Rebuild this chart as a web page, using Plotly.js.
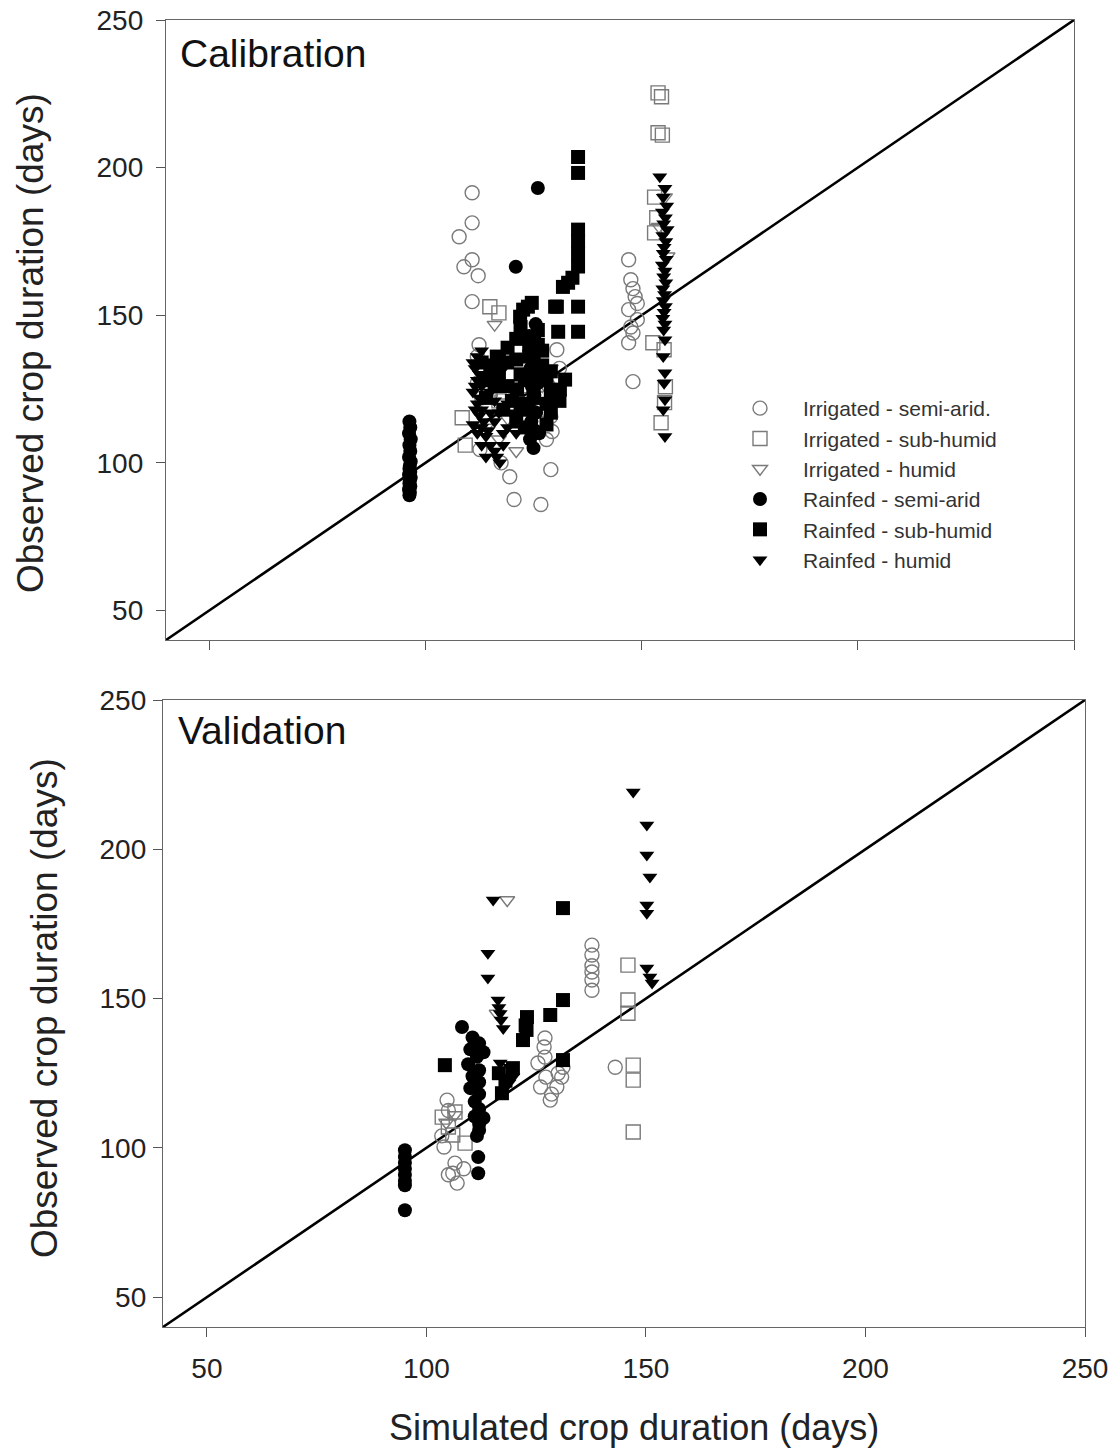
<!DOCTYPE html>
<html><head><meta charset="utf-8">
<script src="https://cdn.plot.ly/plotly-3.0.1.min.js"></script>
<style>html,body{margin:0;padding:0;background:#fff}#chart{width:1120px;height:1450px}</style>
</head><body><div id="chart"></div>
<script>
// ---------- series names ----------
const seriesNames = ["Irrigated - semi-arid.", "Irrigated - sub-humid", "Irrigated - humid",
                     "Rainfed - semi-arid", "Rainfed - sub-humid", "Rainfed - humid"];
const tickValues = [50, 100, 150, 200, 250];
const oneToOne = [40, 250];

// ---------- Calibration (simulated x, observed y) ----------
const calIrrSemiAridX = [110.8,110.8,107.8,110.8,108.9,112.2,110.8,112.4,112.0,113.0,112.0,113.0,112.6,119.5,120.5,126.7,129.0,117.5,129.3,128.0,129.0,130.0,130.4,128.5,127.0,131.0,147.0,147.5,148.5,147.0,149.0,148.0,147.0,148.0,149.0,147.5,148.0];
const calIrrSemiAridY = [191.5,181.3,176.6,168.8,166.4,163.4,154.6,140.0,136.0,131.0,127.0,122.0,104.5,95.3,87.6,85.9,97.7,100.0,110.6,107.9,115.7,121.4,138.3,126.0,118.0,132.0,168.8,162.0,156.3,151.9,148.5,144.0,140.7,159.0,154.0,146.0,127.5];

const calIrrSubHumidX = [114.9,117.0,108.5,109.2,115.0,118.0,121.0,123.5,117.0,153.8,154.6,153.8,154.8,153.0,153.0,153.5,152.6,155.2,155.5,155.3,154.5];
const calIrrSubHumidY = [152.9,150.8,115.3,106.0,125.0,124.0,125.0,121.4,121.0,225.3,224.0,211.8,211.0,190.0,177.9,183.0,140.7,138.3,125.8,120.4,113.6];

const calIrrHumidX = [116.0,114.0,117.0,119.0,124.0,127.0,129.0,121.0,155.4,154.0,156.0];
const calIrrHumidY = [146.8,112.0,108.0,115.0,118.0,126.0,132.0,104.0,190.0,180.0,170.0];

const calRainSemiAridX = [96.3,96.5,96.2,96.6,96.3,96.5,96.2,96.6,96.4,96.3,96.5,96.2,96.6,96.4,96.3,96.5,96.2,96.4,96.3,126.0,120.9,125.0,124.2,125.3,124.5,125.6,124.0,125.2,124.6,125.8,124.3,125.0,124.8,125.5,123.5,126.0,123.8,126.3,124.0,125.5];
const calRainSemiAridY = [114.0,112.0,110.0,108.0,106.0,104.0,102.0,100.5,99.0,98.0,97.0,96.0,95.0,94.0,93.0,92.0,91.0,90.0,89.0,193.1,166.4,105.0,108.0,111.0,114.0,117.0,120.0,123.0,126.0,129.0,132.0,135.0,138.0,141.0,130.0,127.0,118.0,110.0,143.0,147.0];

const calRainSubHumidX = [135.3,135.3,135.3,135.3,135.3,135.3,134.0,131.8,133.0,130.0,135.3,130.7,135.3,123.7,121.9,122.6,124.6,130.4,113.0,115.0,117.0,118.9,121.2,122.0,124.0,126.0,128.0,129.0,131.1,132.3,127.0,125.0,122.0,120.0,118.0,116.5,114.0,119.0,121.0,126.0,128.0,129.0,123.0,114.0,116.0,
                          119.0,121.0,123.0,125.0,127.0,125.0,123.0,121.0,117.0,116.0,124.0,126.0,122.0,129.0,131.0,128.0];
const calRainSubHumidY = [203.6,198.2,179.0,175.0,171.0,166.5,162.7,159.6,161.0,152.9,152.9,144.4,144.4,152.9,149.5,151.9,154.2,152.9,134.0,131.0,135.0,134.0,124.8,130.0,136.0,140.0,128.0,124.0,124.8,128.2,133.0,122.0,118.0,121.0,118.0,136.0,122.0,139.0,142.0,130.0,120.0,117.0,112.0,128.0,126.0,
                          126.0,135.0,128.0,134.0,138.0,126.0,120.0,114.0,130.0,133.0,140.0,145.0,146.0,131.0,121.0,113.0];

const calRainHumidX = [154.2,155.4,155.0,155.8,154.8,155.5,155.1,155.9,154.9,155.6,155.2,155.0,155.7,154.8,155.4,155.1,155.6,154.9,155.3,155.0,155.5,155.2,154.9,155.4,155.1,155.4,155.0,155.4,155.2,155.4,155.0,155.4,
                       112.0,111.5,112.0,111.0,112.0,112.5,113.0,114.0,115.0,116.0,117.2,113.0,114.0,113.0,115.0,117.0,119.0,116.0,118.0,112.0,111.0,113.0,114.0,115.0,116.0,
                       111.0,112.5,111.5,112.5,111.5,113.5,114.5,116.5,118.0,119.0,115.0,117.0,118.0,120.0,121.0,113.0];
const calRainHumidY = [196.9,193.0,190.0,187.0,185.0,183.0,181.0,179.0,177.0,175.0,173.0,171.0,169.0,167.0,165.0,163.0,161.0,159.0,157.0,155.0,153.0,151.0,149.0,147.0,145.0,141.7,136.0,130.5,127.0,121.4,118.0,108.9,
                       136.0,132.0,128.0,124.0,120.0,116.0,112.0,109.0,106.0,104.0,100.0,118.0,122.0,126.0,130.0,127.0,120.0,114.0,110.0,110.0,113.0,106.0,102.0,117.0,121.0,
                       134.0,130.0,126.0,122.0,118.0,114.0,111.0,102.0,106.0,112.0,124.0,117.0,132.0,117.0,110.0,138.0];

// ---------- Validation ----------
const valIrrSemiAridX = [104.7,105.0,104.0,103.5,106.5,106.0,107.0,105.0,108.5,127.0,126.8,127.0,125.4,127.2,126.0,128.2,131.1,130.8,129.7,128.5,130.0,137.7,137.7,137.7,137.7,137.7,137.7,143.0];
const valIrrSemiAridY = [116.0,112.5,100.3,104.0,94.9,91.5,88.2,91.0,93.0,136.8,133.8,130.4,128.4,123.7,120.4,116.0,127.0,123.7,120.4,118.0,125.0,167.9,164.6,161.0,158.9,156.2,152.8,127.0];

const valIrrSubHumidX = [103.6,105.0,106.0,108.8,106.5,145.9,145.9,145.9,147.1,147.1,147.1];
const valIrrSubHumidY = [110.3,107.0,104.3,101.6,112.0,161.2,149.5,145.1,127.7,122.7,105.3];

const valIrrHumidX = [118.4,116.0,106.5,104.5];
const valIrrHumidY = [183.0,145.0,111.0,108.5];

const valRainSemiAridX = [95.1,95.1,95.1,95.1,95.1,95.1,95.1,95.1,108.1,110.5,112.0,110.0,111.5,109.5,112.0,110.5,112.0,110.0,112.0,111.0,112.0,111.0,112.0,112.0,111.5,111.8,111.8,113.0,113.0];
const valRainSemiAridY = [99.2,97.0,95.0,93.0,91.0,89.0,87.5,79.1,140.5,137.0,135.0,133.0,130.5,128.0,126.0,124.0,122.0,120.0,118.0,115.5,113.0,110.5,108.0,106.0,104.0,96.9,91.5,132.0,110.0];

const valRainSubHumidX = [104.2,131.1,131.1,128.2,122.9,122.6,122.8,122.0,117.2,131.1,119.7,118.0,116.5];
const valRainSubHumidY = [127.7,180.3,149.5,144.5,143.8,141.0,139.5,136.1,118.3,129.4,126.7,122.5,125.0];

const valRainHumidX = [115.2,114.0,114.0,116.3,116.5,116.8,117.0,117.5,116.8,119.0,119.7,118.8,147.1,150.2,150.2,150.9,150.2,150.2,150.2,150.9,151.4];
const valRainHumidY = [183.0,165.2,156.9,149.5,147.0,145.0,142.8,140.0,128.4,127.0,123.7,121.7,219.2,208.1,198.1,190.7,181.3,178.6,160.2,157.2,155.2];

// ---------- styles ----------
const GREY = '#7a7a7a';
const styles = [
  {symbol: 'circle-open', color: GREY},
  {symbol: 'square-open', color: GREY},
  {symbol: 'triangle-down-open', color: GREY},
  {symbol: 'circle', color: '#000'},
  {symbol: 'square', color: '#000'},
  {symbol: 'triangle-down', color: '#000'}
];
const FONT = 'Liberation Sans, Arial, sans-serif';

function pts(x, y, i, xa, ya, legend) {
  const s = styles[i];
  return {
    type: 'scatter', mode: 'markers', x: x, y: y, xaxis: xa, yaxis: ya,
    name: seriesNames[i], showlegend: legend, legendgroup: 'g' + i,
    marker: {symbol: s.symbol, size: s.symbol.startsWith('triangle') ? 13 : 14, color: s.color,
             line: {color: s.color, width: s.symbol.endsWith('open') ? 1.4 : 0}},
    hoverinfo: 'x+y+name'
  };
}
function lineTrace(xa, ya) {
  return {type: 'scatter', mode: 'lines', x: oneToOne, y: oneToOne, xaxis: xa, yaxis: ya,
          line: {color: '#000', width: 2.6}, showlegend: false, hoverinfo: 'skip'};
}

const calX = [calIrrSemiAridX, calIrrSubHumidX, calIrrHumidX, calRainSemiAridX, calRainSubHumidX, calRainHumidX];
const calY = [calIrrSemiAridY, calIrrSubHumidY, calIrrHumidY, calRainSemiAridY, calRainSubHumidY, calRainHumidY];
const valX = [valIrrSemiAridX, valIrrSubHumidX, valIrrHumidX, valRainSemiAridX, valRainSubHumidX, valRainHumidX];
const valY = [valIrrSemiAridY, valIrrSubHumidY, valIrrHumidY, valRainSemiAridY, valRainSubHumidY, valRainHumidY];

const data = [lineTrace('x', 'y'), lineTrace('x2', 'y2')];
for (let i = 0; i < 6; i++) data.push(pts(calX[i], calY[i], i, 'x', 'y', true));
for (let i = 0; i < 6; i++) data.push(pts(valX[i], valY[i], i, 'x2', 'y2', false));

const W = 1120, H = 1450;
function axisBase(extra) {
  return Object.assign({
    range: oneToOne, tickvals: tickValues, ticks: 'outside', ticklen: 9, tickwidth: 1.2,
    tickcolor: '#555', linecolor: '#666', linewidth: 1.3, mirror: true,
    showgrid: false, zeroline: false, fixedrange: true,
    tickfont: {family: FONT, size: 28, color: '#222'}, ticklabelstandoff: 7
  }, extra);
}

const layout = {
  width: W, height: H, margin: {l: 0, r: 0, t: 0, b: 0},
  paper_bgcolor: '#fff', plot_bgcolor: '#fff',
  font: {family: FONT, color: '#222'},
  xaxis: axisBase({domain: [166 / W, 1074 / W], anchor: 'y', showticklabels: false}),
  yaxis: axisBase({domain: [1 - 640 / H, 1 - 20 / H], anchor: 'x'}),
  xaxis2: axisBase({domain: [163 / W, 1085 / W], anchor: 'y2', ticklabelstandoff: 7}),
  yaxis2: axisBase({domain: [1 - 1327 / H, 1 - 700 / H], anchor: 'x2', ticklabelstandoff: 1}),
  showlegend: true,
  legend: {x: 717 / W, y: 1 - 388 / H, xanchor: 'left', yanchor: 'top', itemwidth: 76,
           bgcolor: 'rgba(0,0,0,0)', font: {family: FONT, size: 21, color: '#333'},
           tracegroupgap: 0, itemclick: false, itemdoubleclick: false},
  annotations: [
    {text: 'Calibration', xref: 'paper', yref: 'paper', x: 178 / W, y: 1 - 53 / H,
     xanchor: 'left', yanchor: 'middle', showarrow: false, font: {family: FONT, size: 39, color: '#111'}},
    {text: 'Validation', xref: 'paper', yref: 'paper', x: 176 / W, y: 1 - 730 / H,
     xanchor: 'left', yanchor: 'middle', showarrow: false, font: {family: FONT, size: 39, color: '#111'}},
    {text: 'Observed crop duration (days)', xref: 'paper', yref: 'paper', x: 30 / W, y: 1 - 343 / H,
     textangle: -90, xanchor: 'center', yanchor: 'middle', showarrow: false, font: {family: FONT, size: 37, color: '#222'}},
    {text: 'Observed crop duration (days)', xref: 'paper', yref: 'paper', x: 44 / W, y: 1 - 1008 / H,
     textangle: -90, xanchor: 'center', yanchor: 'middle', showarrow: false, font: {family: FONT, size: 37, color: '#222'}},
    {text: 'Simulated crop duration (days)', xref: 'paper', yref: 'paper', x: 634 / W, y: 1 - 1427 / H,
     xanchor: 'center', yanchor: 'middle', showarrow: false, font: {family: FONT, size: 36, color: '#222'}}
  ]
};

Plotly.newPlot('chart', data, layout, {displayModeBar: false});
</script></body></html>
